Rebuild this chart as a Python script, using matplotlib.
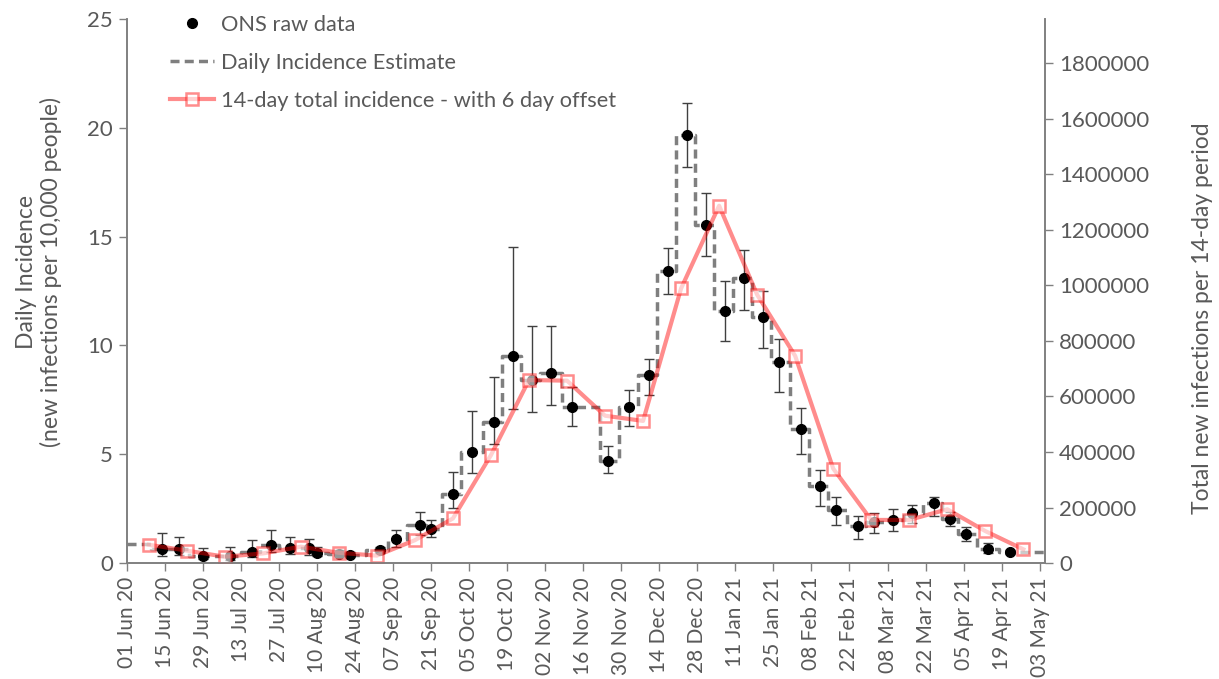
import pandas as pd
import matplotlib
matplotlib.use("Agg")
import matplotlib.pyplot as plt
import matplotlib.dates as mdates
from matplotlib.lines import Line2D

plt.rcParams['font.family'] = ['Lato', 'DejaVu Sans']

# ONS survey points: date, central estimate and interval (per 10,000 people per day)
ons_dates = ['2020-06-14', '2020-06-20', '2020-06-29', '2020-07-09', '2020-07-17',
             '2020-07-24', '2020-07-31', '2020-08-07', '2020-08-10', '2020-08-18',
             '2020-08-22', '2020-09-02', '2020-09-08', '2020-09-17', '2020-09-21',
             '2020-09-29', '2020-10-06', '2020-10-14', '2020-10-21', '2020-10-28',
             '2020-11-04', '2020-11-12', '2020-11-25', '2020-12-03', '2020-12-10',
             '2020-12-17', '2020-12-24', '2020-12-31', '2021-01-07', '2021-01-14',
             '2021-01-21', '2021-01-27', '2021-02-04', '2021-02-11', '2021-02-17',
             '2021-02-25', '2021-03-03', '2021-03-10', '2021-03-17', '2021-03-25',
             '2021-03-31', '2021-04-06', '2021-04-14', '2021-04-22']
ons_value = [0.64, 0.66, 0.32, 0.32, 0.52, 0.82, 0.70, 0.70, 0.46, 0.41,
             0.38, 0.60, 1.10, 1.75, 1.55, 3.17, 5.12, 6.50, 9.53, 8.39,
             8.73, 7.15, 4.70, 7.15, 8.62, 13.43, 19.65, 15.52, 11.60, 13.11,
             11.29, 9.24, 6.17, 3.54, 2.45, 1.70, 1.87, 1.99, 2.30, 2.74,
             2.02, 1.33, 0.64, 0.52]
ons_low = [0.32, 0.37, 0.20, 0.14, 0.29, 0.51, 0.40, 0.37, 0.30, 0.30,
           0.28, 0.45, 0.75, 1.29, 1.21, 2.51, 4.15, 5.47, 7.08, 6.94,
           7.28, 6.30, 4.12, 6.30, 7.74, 12.36, 18.18, 14.11, 10.22, 11.63,
           9.87, 7.87, 4.99, 2.62, 1.76, 1.12, 1.39, 1.48, 1.82, 2.16,
           1.69, 1.01, 0.45, 0.42]
ons_high = [1.38, 1.21, 0.70, 0.75, 1.04, 1.53, 1.18, 1.10, 0.75, 0.60,
            0.50, 0.75, 1.52, 2.33, 1.98, 4.20, 7.00, 8.56, 14.54, 10.90,
            10.90, 8.10, 5.39, 7.95, 9.37, 14.46, 21.15, 17.02, 12.96, 14.37,
            12.50, 10.29, 7.12, 4.27, 3.02, 2.16, 2.31, 2.47, 2.67, 3.03,
            2.36, 1.67, 0.93, 0.62]

# Daily incidence estimate: level changes (date the level starts, level)
est_dates = ['2020-06-01', '2020-06-10', '2020-06-24', '2020-07-13', '2020-07-20',
             '2020-07-27', '2020-08-08', '2020-08-14', '2020-08-20', '2020-08-28',
             '2020-09-05', '2020-09-12', '2020-09-19', '2020-09-25', '2020-10-02',
             '2020-10-10', '2020-10-17', '2020-10-24', '2020-10-31', '2020-11-08',
             '2020-11-22', '2020-11-29', '2020-12-06', '2020-12-13', '2020-12-20',
             '2020-12-27', '2021-01-03', '2021-01-10', '2021-01-17', '2021-01-24',
             '2021-01-31', '2021-02-07', '2021-02-14', '2021-02-21', '2021-02-28',
             '2021-03-07', '2021-03-14', '2021-03-21', '2021-03-28', '2021-04-03',
             '2021-04-10', '2021-04-18', '2021-05-05']
est_level = [0.86, 0.65, 0.32, 0.52, 0.82, 0.70, 0.46, 0.41, 0.38, 0.60,
             1.10, 1.75, 1.55, 3.17, 5.12, 6.50, 9.53, 8.39, 8.73, 7.15,
             4.70, 7.15, 8.62, 13.43, 19.65, 15.52, 11.60, 13.11, 11.29, 9.24,
             6.17, 3.54, 2.45, 1.70, 1.87, 1.99, 2.30, 2.74, 2.02, 1.33,
             0.64, 0.52, 0.52]

# 14-day total new infections (right axis), shifted by 6 days
total_dates = ['2020-06-09', '2020-06-23', '2020-07-07', '2020-07-21', '2020-08-04',
               '2020-08-18', '2020-09-01', '2020-09-15', '2020-09-29', '2020-10-13',
               '2020-10-27', '2020-11-10', '2020-11-24', '2020-12-08', '2020-12-22',
               '2021-01-05', '2021-01-19', '2021-02-02', '2021-02-16', '2021-03-02',
               '2021-03-16', '2021-03-30', '2021-04-13', '2021-04-27']
total_14day = [65900, 44700, 22700, 34500, 58800, 36800, 26700, 82300, 160700, 388900,
               659300, 657000, 530800, 512000, 989400, 1287300, 966700, 746400, 340300, 155200,
               155200, 193600, 115200, 49400]

tick_dates = pd.date_range('2020-06-01', '2021-05-03', freq='14D')

ons_x = pd.to_datetime(ons_dates)
est_x = pd.to_datetime(est_dates)
total_x = pd.to_datetime(total_dates)

txt = '#595959'
axc = '#808080'
red_line = (1.0, 0.0, 0.0, 0.45)
red_face = (1.0, 1.0, 1.0, 0.6)
dash = (0, (2.6, 1.5))

fig = plt.figure(figsize=(12.19, 6.79), dpi=100)
ax = fig.add_axes([0.1042, 0.1708, 0.7531, 0.8012])
ax2 = ax.twinx()

ax.plot(est_x, est_level, drawstyle='steps-post', color='#7f7f7f', lw=2.5, ls=dash)
yerr = [[v - lo for v, lo in zip(ons_value, ons_low)],
        [hi - v for v, hi in zip(ons_value, ons_high)]]
ax.errorbar(ons_x, ons_value, yerr=yerr, fmt='o', color='black', ms=7,
            ecolor='#404040', elinewidth=1.0, capsize=3.5, capthick=1.0)

ax2.plot(total_x, total_14day, color=red_line, lw=3, marker='s', ms=8,
         mfc=red_face, mec=red_line, mew=1.8)

ax.set_xlim(pd.Timestamp('2020-06-01'), pd.Timestamp('2021-05-05'))
ax.set_ylim(0, 25)
ax.set_yticks([0, 5, 10, 15, 20, 25])
ax2.set_ylim(0, 1960000)
ax2.set_yticks(range(0, 1800001, 200000))
ax2.yaxis.set_major_formatter(matplotlib.ticker.FuncFormatter(lambda v, p: f'{int(v)}'))

ax.set_xticks(tick_dates)
ax.xaxis.set_major_formatter(mdates.DateFormatter('%d %b %y'))

for a in (ax, ax2):
    a.tick_params(direction='out', length=6, width=1, color=axc, labelcolor=txt,
                  labelsize=16, pad=4)
    a.spines['top'].set_visible(False)
    for side in ('left', 'right', 'bottom'):
        a.spines[side].set_color(axc)
        a.spines[side].set_linewidth(1.2)
ax.tick_params(axis='x', labelsize=15, labelrotation=90)

ax.set_ylabel('Daily Incidence\n(new infections per 10,000 people)', fontsize=16.5, color=txt,
              linespacing=1.15)
ax.yaxis.set_label_coords(-0.071, 0.535)
ax2.set_ylabel('Total new infections per 14-day period', fontsize=16.5, color=txt)
ax2.yaxis.set_label_coords(1.16, 0.45)

handles = [
    Line2D([], [], marker='o', color='black', ls='none', ms=7),
    Line2D([], [], color='#7f7f7f', lw=2.5, ls=dash),
    Line2D([], [], color=red_line, lw=3, marker='s', ms=8, mfc=red_face, mec=red_line, mew=1.8),
]
labels = ['ONS raw data', 'Daily Incidence Estimate', '14-day total incidence - with 6 day offset']
leg = ax2.legend(handles, labels, loc='upper left', bbox_to_anchor=(170 / 1219, 0.978),
                 bbox_transform=fig.transFigure, frameon=False, fontsize=15.7,
                 handlelength=2.0, handletextpad=0.35, labelspacing=0.82,
                 borderpad=0, borderaxespad=0)
for t in leg.get_texts():
    t.set_color(txt)

fig.savefig('out.png', dpi=100)
